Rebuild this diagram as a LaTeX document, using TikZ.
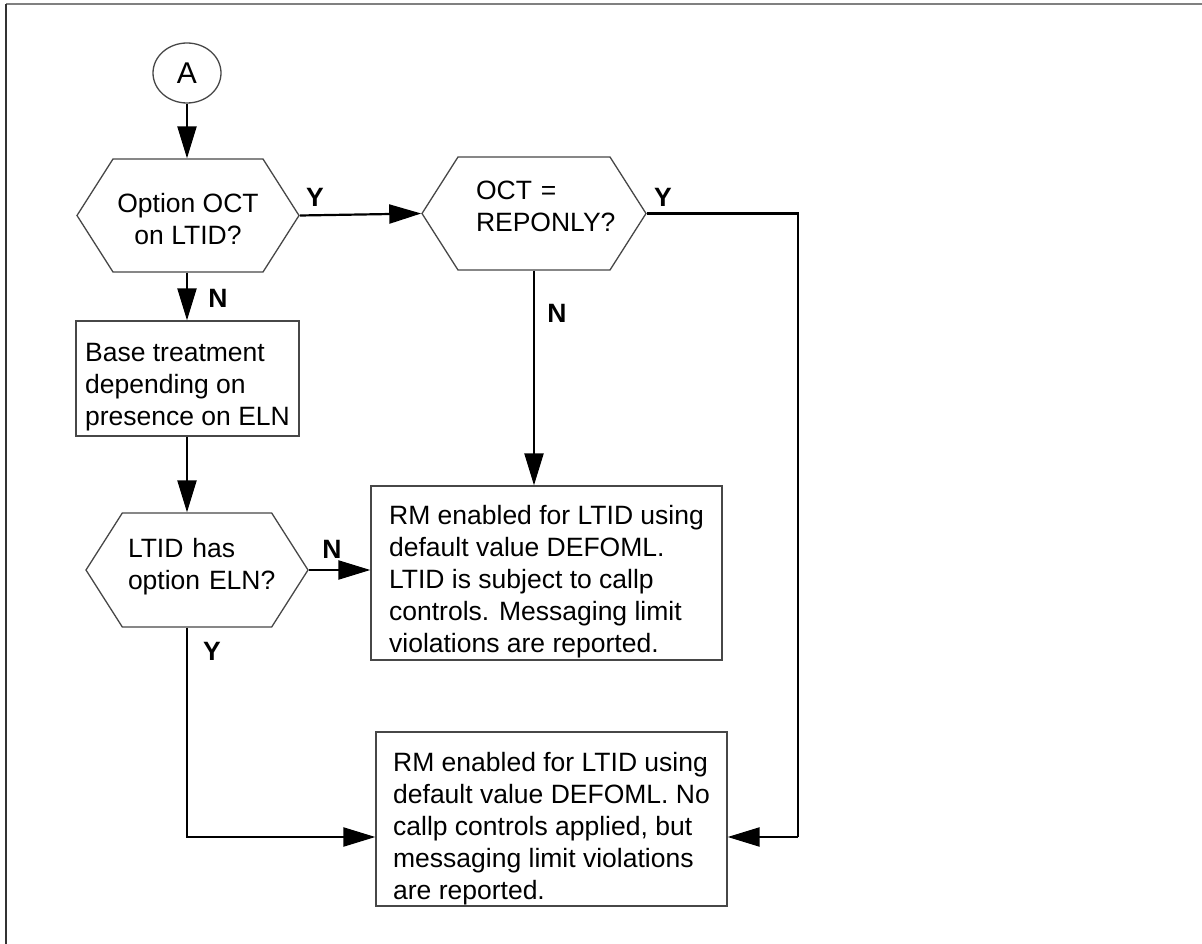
\documentclass[tikz,border=0pt]{standalone}
\usepackage{fontspec}
\setmainfont{Liberation Sans}
\usetikzlibrary{arrows.meta,shapes.geometric,shapes.symbols}

% invisible struts that set the top and bottom room of a text block
\newcommand\padabove[1]{\rule{0pt}{#1}}
\newcommand\padbelow[1]{\rule[-#1]{0pt}{#1}}

\begin{document}
\begin{tikzpicture}[x=1pt,y=-1pt,
  every node/.style={font=\fontsize{26.5}{32}\selectfont},
  outline/.style={draw=black!72, line width=1.3pt},
  hexbox/.style={outline, shape=signal, signal to=west and east,
    signal pointer angle=115, inner sep=0pt,
    minimum width=222pt, minimum height=113pt},
  textbox/.style={outline, rectangle, align=left, inner sep=0pt,
    minimum width=351pt, minimum height=174pt},
  connector/.style={line width=2.2pt, -{Triangle[length=32pt,width=19pt]}},
  plainline/.style={line width=2.2pt},
  tag/.style={font=\fontsize{26.5}{32}\selectfont\bfseries, inner sep=0pt}]

  \useasboundingbox (0,0) rectangle (1202,944);

  % page frame (top and left edges)
  \draw[line width=2pt, black!50] (6,4) -- (1202,4);
  \draw[line width=2pt, black!80] (6,4) -- (6,944);

  % connector A
  \node[outline, ellipse, minimum width=68pt, minimum height=60pt, inner sep=0pt,
    font=\fontsize{30}{32}\selectfont] (A) at (187,73) {A};

  % decisions
  \node[hexbox, align=center] (q1) at (188,215.5)
    {\padabove{27pt}Option OCT\\on LTID?};
  \node[hexbox, align=left, text width=116pt, minimum width=224pt] (q2) at (534,213.5)
    {\mbox{OCT =}\\\mbox{REPONLY?}\padbelow{14.5pt}};
  \node[hexbox, align=left, text width=138pt, minimum height=114pt] (q3) at (197,570)
    {\mbox{LTID has}\\\mbox{option ELN?}\padbelow{11.5pt}};

  % processes
  \node[textbox, minimum width=223pt, minimum height=115pt] (base) at (187.5,378.5)
    {\padabove{35.5pt}Base treatment\\depending on\\presence on ELN};
  \node[textbox] (callp) at (546.5,573)
    {\padabove{36pt}RM enabled for LTID using\\default value DEFOML.\\LTID is subject to callp\\controls. Messaging limit\\violations are reported.};
  \node[textbox] (nocallp) at (551.5,819)
    {\padabove{38pt}RM enabled for LTID using\\default value DEFOML. No\\callp controls applied, but\\messaging limit violations\\are reported.};

  % routing points
  \coordinate (join) at (0,837);
  \coordinate (rturn) at (798,837);

  % flow lines
  \draw[connector] (A.south) -- (A.south |- q1.north);
  \draw[connector] (q1.east) -- (q2.west);
  \draw[connector] (A.south |- q1.south) -- (A.south |- base.north);
  \draw[connector] (A.south |- base.south) -- (A.south |- q3.north);
  \draw[connector] (q2.south) -- (q2.south |- callp.north);
  \draw[connector] (q3.east) -- (q3.east -| callp.west);
  \draw[connector] (A.south |- q3.south) |- (nocallp.west |- join);
  \draw[plainline] (q2.east) -| (rturn);
  \draw[connector] (rturn) -- (nocallp.east |- rturn);

  % branch labels
  \node[tag] (q1y) at (315,197) {Y};
  \node[tag] (q1n) at (218,298) {N};
  \node[tag] (q2y) at (663,197) {Y};
  \node[tag] (q2n) at (557,313) {N};
  \node[tag] (q3n) at (332,549) {N};
  \node[tag] (q3y) at (212,651) {Y};
\end{tikzpicture}
\end{document}
